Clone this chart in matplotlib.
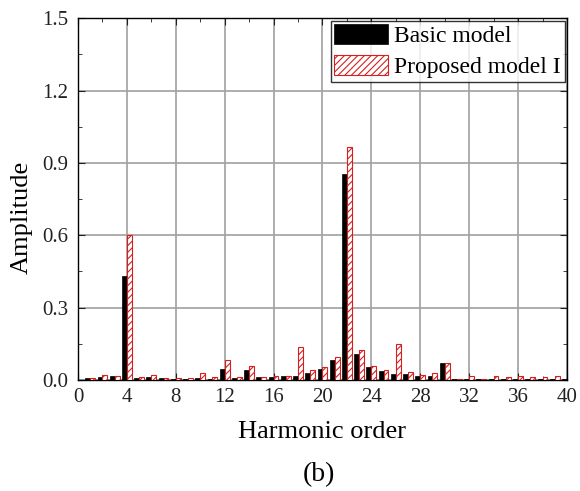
import matplotlib.pyplot as plt
import numpy as np

plt.rcParams['font.family'] = ['Liberation Serif', 'DejaVu Serif']
plt.rcParams['hatch.color'] = '#d62020'
plt.rcParams['hatch.linewidth'] = 0.8

# harmonic orders and amplitudes
orders = np.arange(1, 41)
basic = [0.007, 0.014, 0.015, 0.43, 0.007, 0.014, 0.008, 0.006, 0.006, 0.008,
         0.006, 0.046, 0.008, 0.040, 0.013, 0.014, 0.018, 0.018, 0.030, 0.046,
         0.083, 0.855, 0.107, 0.052, 0.036, 0.025, 0.025, 0.018, 0.018, 0.072,
         0.006, 0.006, 0.006, 0.006, 0.006, 0.006, 0.006, 0.006, 0.006, 0.004]
proposed = [0.010, 0.020, 0.015, 0.60, 0.012, 0.020, 0.008, 0.010, 0.007, 0.030,
            0.012, 0.083, 0.013, 0.057, 0.012, 0.018, 0.018, 0.138, 0.040, 0.055,
            0.095, 0.965, 0.123, 0.058, 0.040, 0.150, 0.035, 0.020, 0.030, 0.072,
            0.006, 0.018, 0.006, 0.017, 0.012, 0.018, 0.011, 0.012, 0.018, 0.0]

fig = plt.figure(figsize=(5.8, 4.91), dpi=100)
ax = fig.add_axes([0.1345, 0.226, 0.843, 0.737])

w = 0.4
ax.bar(orders - w / 2, basic, width=w, color='black', edgecolor='black',
       linewidth=0.5, label='Basic model', zorder=3)
ax.bar(orders + w / 2, proposed, width=w, color='white', edgecolor='#d62020',
       hatch='/////', linewidth=0.8, label='Proposed model I', zorder=3)

ax.set_xlim(0, 40)
ax.set_ylim(0, 1.5)
ax.set_xticks(np.arange(0, 41, 4))
ax.set_xticks(np.arange(0, 41, 2), minor=True)
ax.set_yticks(np.arange(0, 1.51, 0.3))
ax.set_yticks(np.arange(0, 1.51, 0.15), minor=True)
ax.yaxis.set_major_formatter(plt.FormatStrFormatter('%.1f'))
ax.grid(True, which='major', color='#a0a0a0', linewidth=1.2, zorder=0)
ax.tick_params(which='both', direction='in', top=True, right=True,
               labelsize=15, colors='#222222')
ax.tick_params(axis='x', which='major', pad=6)
ax.tick_params(axis='y', which='major', pad=7)
ax.tick_params(which='major', length=5)
ax.tick_params(which='minor', length=3)
for s in ax.spines.values():
    s.set_linewidth(1.0)

ax.set_xlabel('Harmonic order', fontsize=19, labelpad=10)
ax.set_ylabel('Amplitude', fontsize=19)
ax.yaxis.set_label_coords(-0.092, 0.45)

leg = ax.legend(loc='upper right', fontsize=17, frameon=True, fancybox=False,
                edgecolor='black', borderaxespad=0.1, handlelength=2.3,
                handleheight=0.9, handletextpad=0.25, borderpad=0.15,
                labelspacing=0.35)
leg.get_frame().set_linewidth(1.0)

fig.text(0.55, 0.02, '(b)', ha='center', fontsize=20)

plt.savefig('out.png', dpi=100)
